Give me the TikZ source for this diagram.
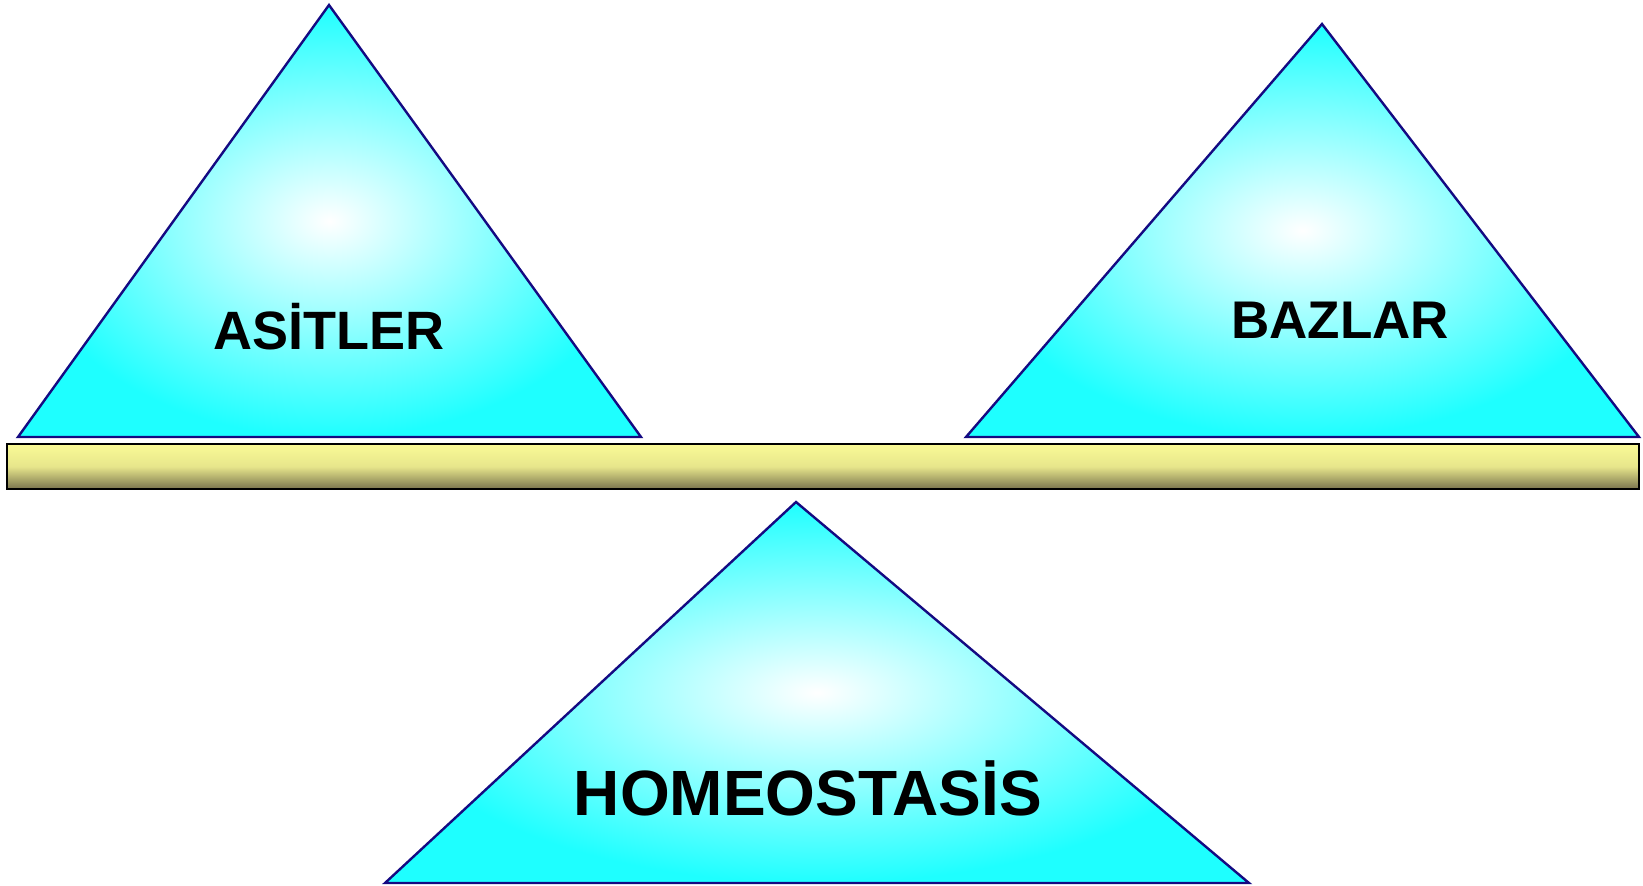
\documentclass[tikz,border=0pt]{standalone}
\usepackage{fontspec}
\setmainfont{Liberation Sans}
\usepackage{tikz}
\usetikzlibrary{positioning}
\definecolor{trifill}{RGB}{30,255,255}
\definecolor{triline}{RGB}{20,10,130}
\definecolor{barlight}{RGB}{250,250,150}
\definecolor{bardark}{RGB}{122,116,78}

\tikzset{
    tri/.style={draw=triline, line width=1.2pt, line join=miter,
        inner color=white, outer color=trifill},
    lbl/.style={anchor=base, font=\fontsize{27}{32}\selectfont\bfseries, black}
}

\begin{document}
\begin{tikzpicture}[x=0.5pt, y=-0.5pt]
        \useasboundingbox (0,0) rectangle (1643,885);
        \clip (0,0) rectangle (1643,885);

        % --- Triangle gauche (asitler) ---
        \shade[tri] (329,5) -- (641,437) -- (18,437) -- cycle;
        \node[lbl] (asitler) at (329,349) {ASİTLER};

        % --- Triangle droit (bazlar) ---
        \shade[tri] (1322,24) -- (1639,437) -- (966,437) -- cycle;
        \node[lbl, font=\fontsize{26.5}{32}\selectfont\bfseries] (bazlar) at (1340,338) {BAZLAR};

        % --- Fléau de la balance ---
        \shade[top color=barlight, bottom color=bardark, middle color=barlight!85!bardark]
            (7,444) rectangle (1639,489);
        \draw[black, line width=1pt] (7,444) rectangle (1639,489);

        % --- Pivot (homeostasis) ---
        \shade[tri] (796,502) -- (1249,883) -- (385,883) -- cycle;
        \node[lbl, font=\fontsize{32}{38}\selectfont\bfseries] (homeostasis) at (808,815) {HOMEOSTASİS};
    \end{tikzpicture}
\end{document}
